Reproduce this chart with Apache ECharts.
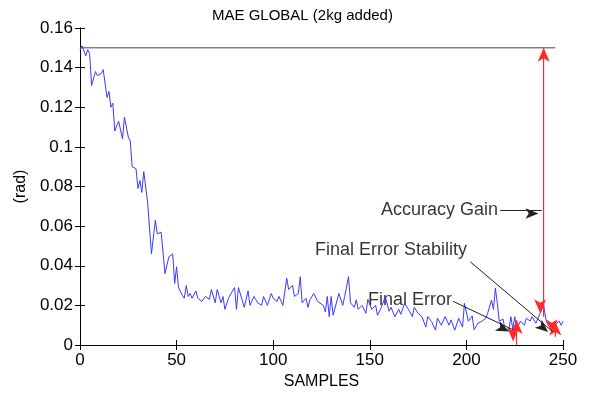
<!DOCTYPE html>
<html>
<head>
<meta charset="utf-8">
<script src="https://cdn.jsdelivr.net/npm/echarts@6/dist/echarts.min.js"></script>
<style>html,body{margin:0;padding:0;background:#fff;}#c{width:592px;height:396px;}</style>
</head>
<body>
<div id="c"></div>
<script>
var samples = [0,1,3,4,5,6,8,9,11,12,14,15,16,17,18,20,22,23,25,26,27,29,30,31,32,33,35,36,37,38,39,40,42,44,46,47,48,49,50,51,53,54,55,56,57,58,60,61,63,65,67,68,70,71,73,74,75,77,78,80,81,82,85,87,88,90,92,94,95,97,99,100,102,103,105,107,108,110,111,113,114,115,117,118,119,121,123,124,126,127,128,129,130,131,134,136,137,139,140,142,143,144,146,148,149,151,153,154,156,158,160,161,163,165,166,168,170,172,173,175,177,179,180,182,184,185,187,189,191,192,194,196,198,199,201,203,204,206,208,210,211,213,214,215,216,217,219,220,222,223,224,225,226,228,230,231,233,234,236,237,240,241,242,244,246,248,249,250];
var maeValues = [0.149,0.151,0.146,0.149,0.147,0.131,0.138,0.136,0.137,0.139,0.125,0.128,0.120,0.122,0.108,0.113,0.104,0.115,0.105,0.103,0.090,0.089,0.079,0.083,0.077,0.0875,0.072,0.071,0.046,0.047,0.063,0.056,0.057,0.036,0.0445,0.044,0.046,0.031,0.0395,0.029,0.025,0.0236,0.030,0.0245,0.026,0.0236,0.0273,0.0236,0.022,0.0245,0.023,0.028,0.0213,0.028,0.0213,0.0245,0.018,0.024,0.0245,0.029,0.018,0.029,0.019,0.0273,0.020,0.0245,0.0213,0.020,0.0245,0.020,0.026,0.0236,0.022,0.0245,0.020,0.0337,0.028,0.030,0.0245,0.026,0.0345,0.0213,0.0236,0.019,0.0228,0.026,0.022,0.0228,0.020,0.0167,0.0245,0.0143,0.0245,0.015,0.026,0.020,0.0245,0.0345,0.0213,0.019,0.0228,0.018,0.020,0.016,0.023,0.018,0.020,0.015,0.019,0.0245,0.017,0.019,0.0143,0.018,0.0155,0.021,0.018,0.0143,0.019,0.016,0.0143,0.009,0.0143,0.0118,0.0075,0.0135,0.010,0.0143,0.010,0.0127,0.0075,0.0135,0.009,0.021,0.012,0.0147,0.0077,0.011,0.012,0.0135,0.016,0.0227,0.018,0.0287,0.021,0.0121,0.013,0.0075,0.0077,0.0143,0.008,0.0143,0.008,0.0121,0.010,0.0135,0.0121,0.0143,0.011,0.012,0.0203,0.0135,0.0104,0.008,0.0104,0.0121,0.010,0.012];
var xTicks = [0,50,100,150,200,250];
var yTicks = [0,0.02,0.04,0.06,0.08,0.1,0.12,0.14,0.16];
var refLine = [[0,0.15],[246,0.15]];
// red double arrows: [x, yFrom, yTo]
var redArrows = [[240,0.15,0.0143],[226,0.0126,0],[246,0.0118,0.0042]];
// black annotation arrows: [xFrom, yFrom, xTo, yTo]
var blackArrows = [[217.5,0.068,239,0.068],[202,0.042,244.7,0.0067],[193.2,0.022,224.3,0.0076]];
// annotation texts: [xRightEdge, y, text]
var notes = [[216.4,0.068,'Accuracy Gain'],[200.3,0.048,'Final Error Stability'],[192.5,0.0227,'Final Error']];

var chart = echarts.init(document.getElementById('c'), null, {renderer:'canvas'});
var font = 'Liberation Sans, Arial, sans-serif';
var RED = '#ff2a2a', DARK = '#222';
var line = samples.map(function(s,i){return [s, maeValues[i]];});
var axisCommon = {
  axisLine:{show:true,lineStyle:{color:'#000',width:1}},
  axisTick:{show:true,inside:true,length:5,lineStyle:{color:'#000'}},
  splitLine:{show:false}
};
function arrowPair(p1, p2, color, syms){
  var ls = {color:color,width:1,type:'solid'};
  return [
    {coord:p1, symbol:syms[0], lineStyle:ls, itemStyle:{color:color}},
    {coord:p2, symbol:syms[1], lineStyle:ls, itemStyle:{color:color}}
  ];
}
var series = [
  {type:'line',data:line,showSymbol:false,symbol:'none',lineStyle:{color:'#3a3aff',width:1},silent:true,z:3},
  {type:'line',data:refLine,showSymbol:false,symbol:'none',lineStyle:{color:'#444',width:1},silent:true,z:2},
  {type:'line',data:[],silent:true,color:RED,z:4,
    markLine:{silent:true,symbol:['arrow','arrow'],symbolSize:[9,14],symbolOffset:[0,3.5],label:{show:false},
      lineStyle:{color:RED,width:1,type:'solid'},itemStyle:{color:RED},emphasis:{disabled:true},
      data:redArrows.map(function(a){return arrowPair([a[0],a[1]],[a[0],a[2]],RED,['arrow','arrow']);})}},
  {type:'line',data:[],silent:true,color:DARK,z:4,
    markLine:{silent:true,symbol:['none','arrow'],symbolSize:[8,13],symbolOffset:[0,3.25],label:{show:false},
      lineStyle:{color:DARK,width:1,type:'solid'},itemStyle:{color:DARK},emphasis:{disabled:true},
      data:blackArrows.map(function(a){return arrowPair([a[0],a[1]],[a[2],a[3]],DARK,['none','arrow']);})}},
  {type:'scatter',data:notes,symbolSize:0,silent:true,
    label:{show:true,position:'left',distance:0,color:'#000',fontSize:18,fontFamily:font,
      formatter:function(p){return p.value[2];}}}
];
// red shafts drawn as plain line series on top
redArrows.forEach(function(a){
  series.push({type:'line',data:[[a[0],a[1]],[a[0],a[2]]],showSymbol:false,symbol:'none',
    lineStyle:{color:RED,width:1},silent:true,z:5});
});
var option = {
  animation:false,
  backgroundColor:'#fff',
  textStyle:{fontFamily:font},
  title:{text:'MAE GLOBAL (2kg added)',left:207,top:3,textStyle:{fontSize:15,fontWeight:'normal',color:'#000',fontFamily:font}},
  grid:{left:80,right:29,top:28,bottom:51},
  xAxis:[
    Object.assign({type:'value',min:0,max:250,interval:50,position:'bottom',name:'SAMPLES',nameLocation:'middle',nameGap:27,
      nameTextStyle:{fontSize:16,color:'#000',fontFamily:font},
      axisLabel:{fontSize:17,color:'#000',margin:7,fontFamily:font}},axisCommon),
    Object.assign({type:'value',min:0,max:250,interval:50,position:'top',axisLabel:{show:false}},axisCommon)
  ],
  yAxis:[
    Object.assign({type:'value',min:0,max:0.16,interval:0.02,position:'left',name:'(rad)',nameLocation:'middle',nameGap:48,
      nameTextStyle:{fontSize:16,color:'#000',fontFamily:font},
      axisLabel:{fontSize:17,color:'#000',margin:7,fontFamily:font,formatter:function(v){return String(+v.toFixed(2));}}},axisCommon),
    Object.assign({type:'value',min:0,max:0.16,interval:0.02,position:'right',axisLabel:{show:false}},axisCommon)
  ],
  series:series
};
chart.setOption(option);
</script>
</body>
</html>
